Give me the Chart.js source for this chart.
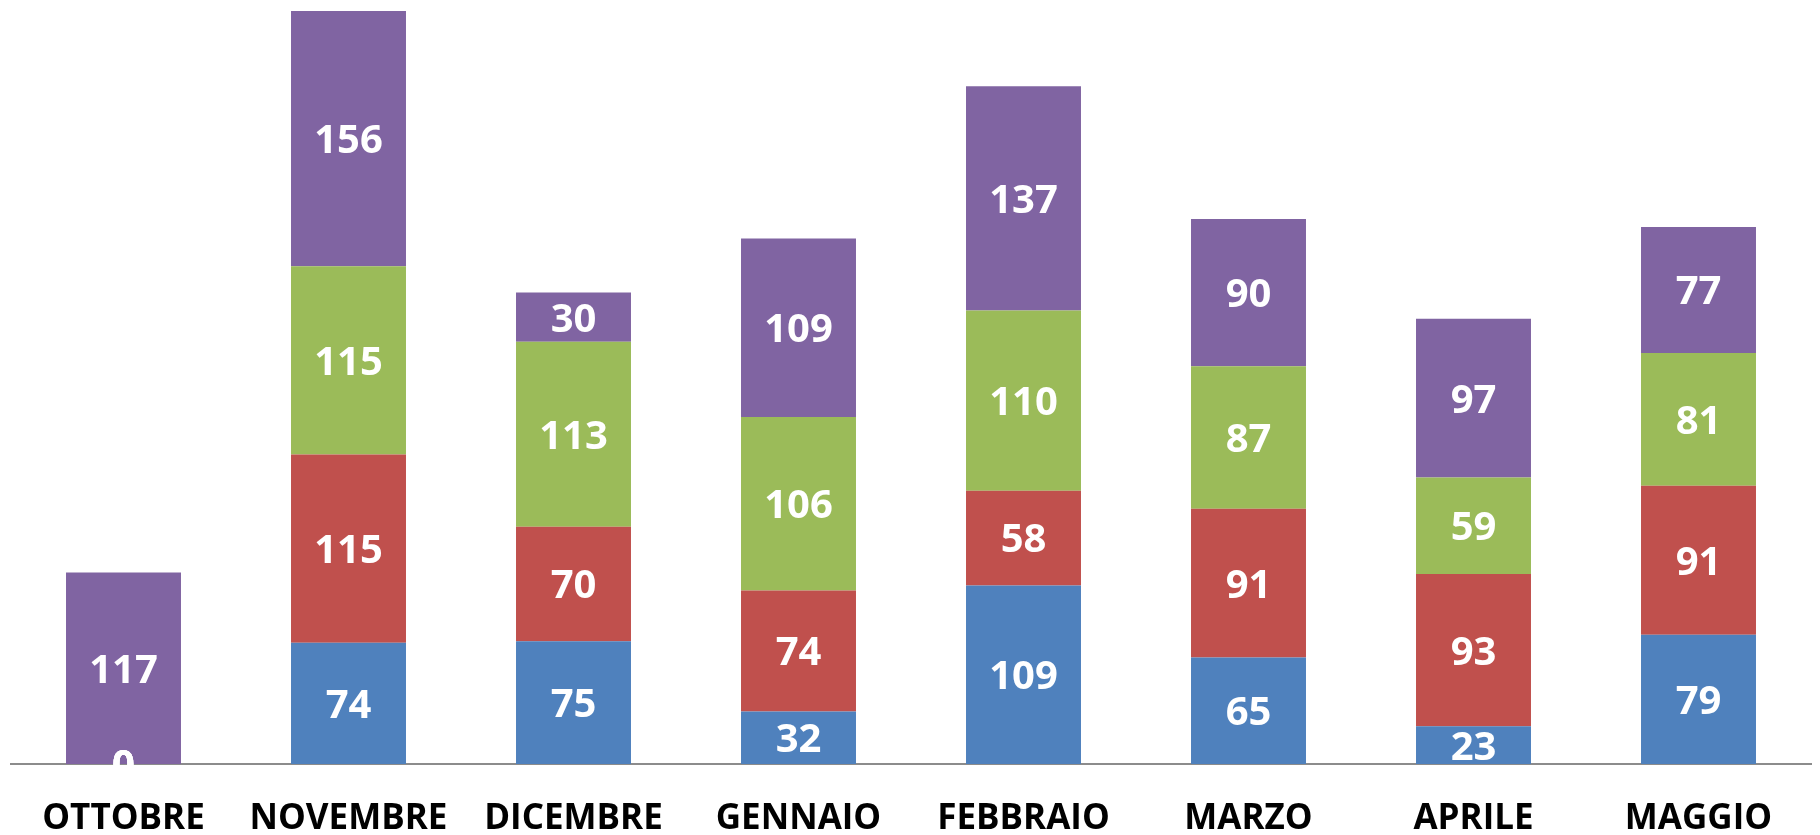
<!DOCTYPE html>
<html lang="it">
<head>
    <meta charset="UTF-8">
    <title>Andamento mensile</title>
    <script src="https://cdn.jsdelivr.net/npm/chart.js"></script>
    <style>
        body {
            margin: 0;
            padding: 0;
            background-color: #fff;
        }
        #chartContainer {
            width: 1820px;
            height: 835px;
        }
    </style>
</head>
<body>

    <div id="chartContainer">
        <canvas id="monthChart" width="1820" height="835"></canvas>
    </div>

    <script>
        // Data
        const months = ['OTTOBRE', 'NOVEMBRE', 'DICEMBRE', 'GENNAIO', 'FEBBRAIO', 'MARZO', 'APRILE', 'MAGGIO'];
        const blueValues = [0, 74, 75, 32, 109, 65, 23, 79];
        const redValues = [0, 115, 70, 74, 58, 91, 93, 91];
        const greenValues = [0, 115, 113, 106, 110, 87, 59, 81];
        const purpleValues = [117, 156, 30, 109, 137, 90, 97, 77];

        const colors = ['#4F81BD', '#C0504D', '#9BBB59', '#8064A2'];

        // draws the value in the middle of every segment
        const segmentLabels = {
            id: 'segmentLabels',
            afterDatasetsDraw(chart) {
                const ctx = chart.ctx;
                ctx.save();
                ctx.font = 'bold 40px "Open Sans", sans-serif';
                ctx.fillStyle = '#fff';
                ctx.textAlign = 'center';
                ctx.textBaseline = 'middle';
                chart.data.datasets.forEach((ds, i) => {
                    const meta = chart.getDatasetMeta(i);
                    meta.data.forEach((bar, j) => {
                        const v = ds.data[j];
                        if (v === null) return;
                        ctx.fillText(v, bar.x, (bar.y + bar.base) / 2 + 3);
                    });
                });
                ctx.restore();
            }
        };

        const ctx = document.getElementById('monthChart').getContext('2d');
        const monthChart = new Chart(ctx, {
            type: 'bar',
            data: {
                labels: months,
                datasets: [
                    { label: 'A', data: blueValues, backgroundColor: colors[0] },
                    { label: 'B', data: redValues, backgroundColor: colors[1] },
                    { label: 'C', data: greenValues, backgroundColor: colors[2] },
                    { label: 'D', data: purpleValues, backgroundColor: colors[3] }
                ]
            },
            options: {
                responsive: false,
                animation: false,
                layout: {
                    padding: { top: 11, left: 11, right: 9, bottom: 0 }
                },
                datasets: {
                    bar: {
                        categoryPercentage: 1,
                        barPercentage: 0.511,
                        borderWidth: 0
                    }
                },
                plugins: {
                    legend: { display: false },
                    tooltip: { enabled: false }
                },
                scales: {
                    x: {
                        stacked: true,
                        grid: { display: false, drawTicks: false },
                        border: { display: true, color: '#8c8c8c', width: 2 },
                        ticks: {
                            color: '#000',
                            padding: 34,
                            maxRotation: 0,
                            autoSkip: false,
                            font: { family: '"Open Sans", sans-serif', size: 35, weight: 'bold' }
                        },
                        afterFit(scale) {
                            scale.height = 71;
                        }
                    },
                    y: {
                        stacked: true,
                        display: false,
                        min: 0,
                        max: 460
                    }
                }
            },
            plugins: [segmentLabels]
        });
    </script>

</body>
</html>
